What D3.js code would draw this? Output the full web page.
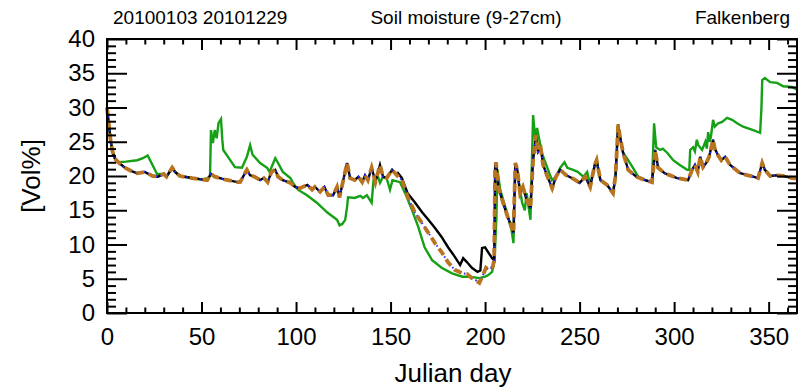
<!doctype html>
<html>
<head>
<meta charset="utf-8">
<script src="https://d3js.org/d3.v7.min.js"></script>
<style>
  body { margin: 0; background: #fff; }
  text { font-family: "Liberation Sans", Arial, Helvetica, sans-serif; fill: #000; }
</style>
</head>
<body>
<svg id="chart" width="805" height="390"></svg>
<script>
// [julian day, Vol%]
const obsBlack = [
  [0, 30.0], [1, 27.5], [2, 25.0], [3, 23.5], [4, 22.6], [6, 22.0], [9.5, 21.2], [13, 20.7],
  [16, 20.4], [20, 20.6], [24, 20.0], [27, 19.9], [30, 20.3], [31.5, 19.9], [34.5, 21.2],
  [36, 20.6], [38.6, 20.0], [45, 19.7], [50, 19.5], [53, 19.4], [55, 20.3], [57, 19.9],
  [62, 19.5], [69, 19.1], [70.4, 19.1], [74, 20.9], [75.7, 20.1], [78, 19.9], [81, 19.4],
  [83, 19.7], [85, 19.1], [87, 20.6], [89, 20.9], [90.5, 19.9], [93, 19.4], [97, 19.0],
  [99.5, 18.4], [102, 18.2], [106, 18.7], [108.5, 18.0], [110, 18.4], [112.7, 17.7],
  [115, 18.4], [117, 17.2], [119.6, 17.2], [121.7, 18.4], [123, 16.9], [125, 19.4],
  [127, 21.9], [128.6, 19.7], [131, 19.4], [133, 19.9], [135, 19.1], [136.5, 20.1],
  [138, 19.4], [140, 21.2], [142, 19.1], [144.4, 21.6], [146, 19.9], [148, 19.7],
  [150.8, 20.9], [153.4, 20.1], [154, 20.4], [156, 19.7], [159, 17.5], [163, 16.1],
  [166.7, 14.7], [170, 13.6], [173.5, 12.4], [177, 11.1], [180.4, 9.6], [184, 8.2],
  [186.8, 7.0], [188.4, 8.0], [190.5, 7.4], [193, 6.6], [196, 6.0], [197.5, 6.2],
  [198.4, 9.5], [200, 9.6], [201.6, 8.9], [203.7, 8.0], [204.8, 7.7], [205.3, 21.3],
  [205.8, 22.0], [207, 18.4], [209.5, 16.1], [212, 14.0], [214, 12.6], [215, 11.7],
  [216, 21.9], [217, 21.0], [218.5, 17.5], [220, 18.4], [222, 16.5], [224, 15.3],
  [225.4, 22.3], [227, 26.0], [228, 23.5], [229.5, 24.0], [230.7, 21.6], [233, 19.9],
  [235.5, 18.2], [237.5, 19.9], [239.7, 20.9], [243, 20.1], [246.6, 19.6], [250, 19.0],
  [253, 19.9], [255.6, 18.4], [258, 21.6], [259, 22.3], [261, 19.4], [264.5, 18.7],
  [267.7, 17.5], [269, 20.0], [270.4, 27.5], [271.4, 25.7], [273, 23.4], [275.7, 20.9],
  [280, 19.9], [284.6, 19.4], [288.3, 19.1], [290, 23.8], [291.5, 21.2], [295, 20.4],
  [301.6, 19.7], [307.4, 19.4], [309.5, 20.9], [311, 21.6], [312.5, 20.6], [313.8, 22.8],
  [315.3, 21.3], [317, 21.9], [318.5, 22.8], [320.6, 25.3], [321.5, 24.0], [323.3, 23.0],
  [325, 22.3], [327, 22.8], [329.6, 21.6], [335, 20.4], [341.8, 19.9], [344.4, 19.7],
  [346.6, 21.9], [348, 20.9], [350.8, 20.0], [354.5, 20.1], [357.7, 20.0], [362.4, 19.7],
  [365, 19.6]
];

// the two dashed runs only leave the black line during the summer drying
const simDry = [
  [153.4, 20.1], [156, 19.4], [159, 17.0], [163, 14.6], [166.7, 13.1], [170, 11.7],
  [173.5, 10.2], [177, 8.9], [180.4, 7.4], [184, 6.3], [188, 5.8], [190.5, 5.7],
  [193, 5.1], [195, 4.8], [197, 4.4], [198.5, 5.3], [200.5, 6.6], [202, 6.3], [204, 6.7]
];

const obsGreen = [
  [0, 30.0], [1, 27.5], [2, 25.0], [3, 23.5], [4.5, 22.5], [6, 22.0], [10, 22.1], [16, 22.3],
  [19, 22.6], [21.5, 23.0], [23, 22.2], [26.5, 20.3], [30, 20.3], [31.5, 19.9], [34.5, 21.2],
  [36, 20.6], [38.6, 20.0], [45, 19.7], [50, 19.5], [53.5, 19.7], [54.5, 20.0], [55, 26.7],
  [56, 24.8], [57, 26.7], [58, 25.5], [59, 27.7], [60.3, 28.3], [61, 25.3], [61.5, 23.8],
  [64, 22.8], [67.7, 21.3], [71.4, 21.2], [74, 22.8], [75.7, 24.5], [77, 23.1], [81, 21.9],
  [84.7, 21.2], [86, 20.6], [89, 22.6], [90.5, 21.9], [93, 20.6], [97, 19.7], [98.4, 19.0],
  [101, 18.0], [105.8, 17.2], [111, 16.1], [116.4, 14.7], [121.7, 13.6], [123, 12.8],
  [124.5, 13.0], [126, 13.6], [127, 15.5], [127.5, 16.9], [131, 16.8], [134, 17.1],
  [135.4, 16.8], [137.5, 17.2], [139, 16.5], [140, 16.1], [141, 19.4], [142, 19.9],
  [143, 20.2], [144.4, 19.0], [146, 19.9], [148, 19.6], [149.7, 18.0], [151, 19.4],
  [155, 19.1], [157.7, 17.5], [161.4, 15.0], [164.6, 12.6], [168, 9.6], [172, 7.7],
  [177, 6.6], [182.5, 5.8], [188, 5.3], [192, 5.3], [197, 5.1], [200, 5.3], [201.5, 5.5],
  [203.7, 6.0], [205, 7.7], [206, 14.0], [206.5, 21.0], [208, 18.0], [211.6, 14.6],
  [214, 12.1], [215, 10.2], [216, 21.5], [217, 20.5], [219.6, 16.1], [221, 15.0],
  [222, 17.5], [224, 13.6], [225.4, 28.9], [226.5, 25.5], [227.5, 27.0], [230, 23.4],
  [232.8, 21.3], [235.4, 19.4], [237.5, 19.9], [239.7, 21.2], [242, 22.0], [243.5, 21.2],
  [246.6, 20.9], [249, 20.6], [252, 19.9], [254, 20.6], [255.6, 18.7], [258, 21.6],
  [259, 22.3], [261, 19.4], [264.5, 18.7], [267.7, 17.5], [269, 20.0], [270.4, 27.5],
  [271.4, 25.7], [273, 23.4], [275, 22.6], [278, 21.3], [281, 19.9], [284.6, 19.4],
  [288.3, 19.1], [289.4, 27.7], [290.5, 24.2], [292.6, 23.8], [294, 24.0], [296.3, 23.4],
  [299.5, 22.3], [303, 21.6], [306.9, 20.9], [308, 20.9], [308.5, 23.8], [310, 24.2],
  [311, 23.6], [312, 25.3], [312.8, 24.5], [314.8, 23.8], [316.5, 25.0], [317.3, 24.0],
  [318, 26.4], [318.8, 25.0], [319.5, 25.8], [320.6, 28.2], [321.5, 27.2], [323.3, 27.7],
  [325.4, 27.9], [328, 28.5], [330.7, 28.2], [333.3, 27.7], [336.5, 27.2], [341.8, 26.7],
  [345.5, 26.3], [346.2, 30.0], [346.6, 34.0], [348, 34.3], [350.8, 33.7], [354.5, 33.6],
  [357.7, 33.1], [362.4, 33.0], [365, 32.6]
];

const xMajor = [0, 50, 100, 150, 200, 250, 300, 350];
const yMajor = [0, 5, 10, 15, 20, 25, 30, 35, 40];
const titleParts = ["20100103 20101229", "Soil moisture (9-27cm)", "Falkenberg"];

const svg = d3.select("#chart");
const pLeft = 107, pRight = 797, pTop = 39, pBottom = 313;

const x = d3.scaleLinear().domain([0, 365]).range([pLeft, pRight]);
const y = d3.scaleLinear().domain([0, 40]).range([pBottom, pTop]);

// dashed runs = black outside the dry spell, own values inside it
const simRun = obsBlack.filter(d => d[0] < simDry[0][0])
  .concat(simDry)
  .concat(obsBlack.filter(d => d[0] > simDry[simDry.length - 1][0]));

const line = d3.line().x(d => x(d[0])).y(d => y(d[1]));

const plot = svg.append("g");
plot.append("path").attr("d", line(obsGreen))
  .attr("fill", "none").attr("stroke", "#16a016").attr("stroke-width", 2.4);
plot.append("path").attr("d", line(obsBlack))
  .attr("fill", "none").attr("stroke", "#000").attr("stroke-width", 2.4);
plot.append("path").attr("d", line(simRun))
  .attr("fill", "none").attr("stroke", "#2b2bff").attr("stroke-width", 2)
  .attr("stroke-dasharray", "1.5 3");
plot.append("path").attr("d", line(simRun))
  .attr("fill", "none").attr("stroke", "#b8741e").attr("stroke-width", 3.8)
  .attr("stroke-dasharray", "8 5");

// axes, IDL style: ticks on all four sides pointing inward
function tickAxis(axis, scale, vals, size, pos, pad, fmt) {
  const g = svg.append("g").attr("transform", pos)
    .call(axis(scale).tickValues(vals).tickSize(-size).tickPadding(pad)
      .tickFormat(fmt || ""));
  g.select(".domain").remove();
  g.selectAll("line").attr("stroke", "#000").attr("stroke-width", 2);
  g.selectAll("text").style("font-size", "24px").attr("fill", "#000");
  return g;
}
const xMinor = d3.range(0, 366, 10).filter(v => !xMajor.includes(v));
const yMinor = d3.range(0, 41, 1).filter(v => !yMajor.includes(v));

tickAxis(d3.axisBottom, x, xMajor, 11, `translate(0,${pBottom})`, 15, d3.format("d"));
tickAxis(d3.axisBottom, x, xMinor, 5.5, `translate(0,${pBottom})`, 0);
tickAxis(d3.axisTop, x, xMajor, 11, `translate(0,${pTop})`, 0);
tickAxis(d3.axisTop, x, xMinor, 5.5, `translate(0,${pTop})`, 0);
tickAxis(d3.axisLeft, y, yMajor, 20, `translate(${pLeft},0)`, 12, d3.format("d"));
tickAxis(d3.axisLeft, y, yMinor, 9, `translate(${pLeft},0)`, 0);
tickAxis(d3.axisRight, y, yMajor, 20, `translate(${pRight},0)`, 0);
tickAxis(d3.axisRight, y, yMinor, 9, `translate(${pRight},0)`, 0);

svg.append("rect").attr("x", pLeft).attr("y", pTop)
  .attr("width", pRight - pLeft).attr("height", pBottom - pTop)
  .attr("fill", "none").attr("stroke", "#000").attr("stroke-width", 2);

// labels
svg.append("text").attr("x", 453).attr("y", 382)
  .attr("text-anchor", "middle").style("font-size", "26px").text("Julian day");
svg.append("text").attr("transform", `translate(40,${(pTop + pBottom) / 2}) rotate(-90)`)
  .attr("text-anchor", "middle").style("font-size", "26px").text("[Vol%]");

svg.append("text").attr("x", 113).attr("y", 24).style("font-size", "19px").text(titleParts[0]);
svg.append("text").attr("x", 466).attr("y", 24).attr("text-anchor", "middle")
  .style("font-size", "19px").text(titleParts[1]);
svg.append("text").attr("x", 790).attr("y", 24).attr("text-anchor", "end")
  .style("font-size", "19px").text(titleParts[2]);
</script>
</body>
</html>
